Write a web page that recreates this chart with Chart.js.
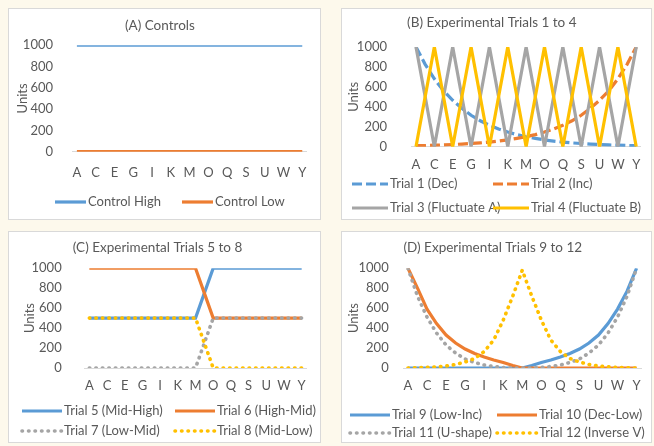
<!DOCTYPE html>
<html lang="en">
<head>
    <meta charset="UTF-8">
    <title>Controls and Experimental Trials</title>
    <style>
        body {
            margin: 0;
            width: 654px;
            height: 446px;
            position: relative;
            overflow: hidden;
            background-color: #fdf9ec;
        }

        .panel {
            position: absolute;
            border: 1px solid #d9d9d9;
            background-color: #fff;
        }

        canvas {
            display: block;
        }
    </style>
</head>
<body>
    <div class="panel" style="left:8px; top:8px;"><canvas id="chartA" width="311" height="210"></canvas></div>
    <div class="panel" style="left:341px; top:8px;"><canvas id="chartB" width="309" height="210"></canvas></div>
    <div class="panel" style="left:8px; top:231px;"><canvas id="chartC" width="311" height="210"></canvas></div>
    <div class="panel" style="left:341px; top:231px;"><canvas id="chartD" width="309" height="210"></canvas></div>

    <script src="https://cdn.jsdelivr.net/npm/chart.js"></script>
    <script>
        // Categories (only every other one gets a label on the axis)
        const letters = ['A', 'B', 'C', 'D', 'E', 'F', 'G', 'H', 'I', 'J', 'K', 'L', 'M',
                         'N', 'O', 'P', 'Q', 'R', 'S', 'T', 'U', 'V', 'W', 'X', 'Y'];
        const yTicks = [0, 200, 400, 600, 800, 1000];

        // (A) Controls
        const controlHigh = [1000, 1000, 1000, 1000, 1000, 1000, 1000, 1000, 1000, 1000, 1000, 1000, 1000,
                             1000, 1000, 1000, 1000, 1000, 1000, 1000, 1000, 1000, 1000, 1000, 1000];
        const controlLow = [0, 0, 0, 0, 0, 0, 0, 0, 0, 0, 0, 0, 0,
                            0, 0, 0, 0, 0, 0, 0, 0, 0, 0, 0, 0];

        // (B) Trials 1 to 4
        const trial1 = [1000, 825, 680, 560, 465, 385, 315, 260, 215, 178, 147, 121, 100,
                        83, 68, 56, 46, 38, 32, 26, 22, 18, 15, 12, 10];
        const trial2 = [10, 12, 15, 18, 22, 26, 32, 38, 46, 56, 68, 83, 100,
                        121, 147, 178, 215, 260, 315, 385, 465, 560, 680, 825, 1000];
        const trial3 = [1000, 500, 0, 500, 1000, 500, 0, 500, 1000, 500, 0, 500, 1000,
                        500, 0, 500, 1000, 500, 0, 500, 1000, 500, 0, 500, 1000];
        const trial4 = [0, 500, 1000, 500, 0, 500, 1000, 500, 0, 500, 1000, 500, 0,
                        500, 1000, 500, 0, 500, 1000, 500, 0, 500, 1000, 500, 0];

        // (C) Trials 5 to 8
        const trial5 = [500, 500, 500, 500, 500, 500, 500, 500, 500, 500, 500, 500, 500,
                        750, 1000, 1000, 1000, 1000, 1000, 1000, 1000, 1000, 1000, 1000, 1000];
        const trial6 = [1000, 1000, 1000, 1000, 1000, 1000, 1000, 1000, 1000, 1000, 1000, 1000, 1000,
                        750, 500, 500, 500, 500, 500, 500, 500, 500, 500, 500, 500];
        const trial7 = [0, 0, 0, 0, 0, 0, 0, 0, 0, 0, 0, 0, 0,
                        250, 500, 500, 500, 500, 500, 500, 500, 500, 500, 500, 500];
        const trial8 = [500, 500, 500, 500, 500, 500, 500, 500, 500, 500, 500, 500, 500,
                        250, 0, 0, 0, 0, 0, 0, 0, 0, 0, 0, 0];

        // (D) Trials 9 to 12
        const trial9 = [0, 0, 0, 0, 0, 0, 0, 0, 0, 0, 0, 0, 0,
                        25, 55, 80, 110, 145, 190, 250, 330, 445, 590, 770, 1000];
        const trial10 = [1000, 800, 590, 445, 330, 250, 190, 145, 110, 80, 55, 25, 0,
                         0, 0, 0, 0, 0, 0, 0, 0, 0, 0, 0, 0];
        const trial11 = [1000, 720, 510, 350, 230, 150, 90, 55, 30, 15, 5, 0, 0,
                         0, 5, 15, 30, 55, 90, 150, 230, 350, 510, 720, 1000];
        const trial12 = [0, 3, 6, 12, 20, 35, 60, 95, 165, 280, 480, 720, 980,
                         720, 480, 280, 165, 95, 60, 35, 20, 12, 6, 3, 0];

        // Excel style colours and dashes
        const blue = '#5b9bd5';
        const orange = '#ed7d31';
        const gray = '#a5a5a5';
        const gold = '#ffc000';
        const dash = [10, 4];
        const dot = [0.5, 6];

        Chart.defaults.font.family = 'Lato, "Open Sans", sans-serif';
        Chart.defaults.font.size = 13;
        Chart.defaults.color = '#595959';

        function series(label, data, color, lineDash, i) {
            return {
                label: label,
                data: data,
                borderColor: color,
                backgroundColor: color,
                borderWidth: lineDash === dot ? 3.6 : 3.2,
                borderDash: lineDash || [],
                borderCapStyle: lineDash === dot ? 'round' : 'butt',
                order: -i // later series on top, like Excel
            };
        }

        // Legend laid out in a grid like the Excel one
        const gridLegend = {
            id: 'gridLegend',
            afterDraw(chart, args, opts) {
                const ctx = chart.ctx;
                const cols = opts.x.length;
                ctx.save();
                ctx.font = '13px ' + Chart.defaults.font.family;
                ctx.fillStyle = '#595959';
                ctx.textBaseline = 'middle';
                chart.data.datasets.forEach((ds, i) => {
                    const x = opts.x[i % cols];
                    const y = opts.y[Math.floor(i / cols)];
                    ctx.save();
                    ctx.strokeStyle = ds.borderColor;
                    ctx.lineWidth = ds.borderWidth;
                    ctx.lineCap = ds.borderCapStyle;
                    ctx.setLineDash(ds.borderDash);
                    ctx.beginPath();
                    ctx.moveTo(x, y);
                    ctx.lineTo(x + opts.len, y);
                    ctx.stroke();
                    ctx.restore();
                    ctx.fillText(ds.label, x + opts.len + 2, y);
                });
                ctx.restore();
            }
        };

        function makePanel(id, title, datasets, box) {
            return new Chart(document.getElementById(id), {
                type: 'line',
                data: { labels: letters, datasets: datasets },
                options: {
                    responsive: false,
                    animation: false,
                    events: [],
                    layout: { padding: { left: 0, right: box.right, top: 0, bottom: 0 } },
                    elements: { point: { radius: 0, hoverRadius: 0 }, line: { tension: 0 } },
                    scales: {
                        x: {
                            offset: true,
                            grid: { display: false, drawTicks: false },
                            border: { display: true, color: '#d9d9d9', width: 1 },
                            ticks: {
                                autoSkip: false,
                                maxRotation: 0,
                                padding: box.xPad,
                                callback: (v, i) => (i % 2 ? '' : letters[i])
                            },
                            afterFit: s => { s.height = box.xHeight; }
                        },
                        y: {
                            min: yTicks[0],
                            max: yTicks[yTicks.length - 1],
                            grid: { display: false, drawTicks: false },
                            border: { display: false },
                            ticks: { stepSize: yTicks[1] - yTicks[0], padding: box.yPad, callback: v => String(v) },
                            title: { display: true, text: 'Units', font: { size: 13 }, padding: { top: box.unitsPad, bottom: 0 } },
                            afterFit: s => { s.width = box.left; }
                        }
                    },
                    plugins: {
                        legend: { display: false },
                        tooltip: { enabled: false },
                        title: {
                            display: true,
                            text: title,
                            color: '#595959',
                            font: { size: 13.5, weight: 'normal' },
                            padding: box.titlePad
                        },
                        gridLegend: box.legend
                    }
                },
                plugins: [gridLegend]
            });
        }

        makePanel('chartA', '(A) Controls', [
            series('Control High', controlHigh, blue, null, 0),
            series('Control Low', controlLow, orange, null, 1)
        ], {
            left: 63.2, right: 9.2, xHeight: 67.3, xPad: 13.5, yPad: 19.2, unitsPad: 6,
            titlePad: { top: 8.5, bottom: 11.5 },
            legend: { x: [46, 173], y: [193], len: 31 }
        });

        makePanel('chartB', '(B) Experimental Trials 1 to 4', [
            series('Trial 1 (Dec)', trial1, blue, dash, 0),
            series('Trial 2 (Inc)', trial2, orange, dash, 1),
            series('Trial 3 (Fluctuate A)', trial3, gray, null, 2),
            series('Trial 4 (Fluctuate B)', trial4, gold, null, 3)
        ], {
            left: 69.4, right: 9.4, xHeight: 72.3, xPad: 10.5, yPad: 24.4, unitsPad: 4.2,
            titlePad: { top: 5.5, bottom: 16.2 },
            legend: { x: [10, 151], y: [175, 199], len: 36 }
        });

        makePanel('chartC', '(C) Experimental Trials 5 to 8', [
            series('Trial 5 (Mid-High)', trial5, blue, null, 0),
            series('Trial 6 (High-Mid)', trial6, orange, null, 1),
            series('Trial 7 (Low-Mid)', trial7, gray, dot, 2),
            series('Trial 8 (Mid-Low)', trial8, gold, dot, 3)
        ], {
            left: 75.9, right: 13.9, xHeight: 74, xPad: 10.2, yPad: 23.2, unitsPad: 13.2,
            titlePad: { top: 8, bottom: 12 },
            legend: { x: [13, 166], y: [179, 199], len: 40 }
        });

        makePanel('chartD', '(D) Experimental Trials 9 to 12', [
            series('Trial 9 (Low-Inc)', trial9, blue, null, 0),
            series('Trial 10 (Dec-Low)', trial10, orange, null, 1),
            series('Trial 11 (U-shape)', trial11, gray, dot, 2),
            series('Trial 12 (Inverse V)', trial12, gold, dot, 3)
        ], {
            left: 61.2, right: 7.5, xHeight: 74, xPad: 10.2, yPad: 14.5, unitsPad: 3.9,
            titlePad: { top: 8, bottom: 12 },
            legend: { x: [8, 155], y: [183, 201], len: 40 }
        });
    </script>
</body>
</html>
